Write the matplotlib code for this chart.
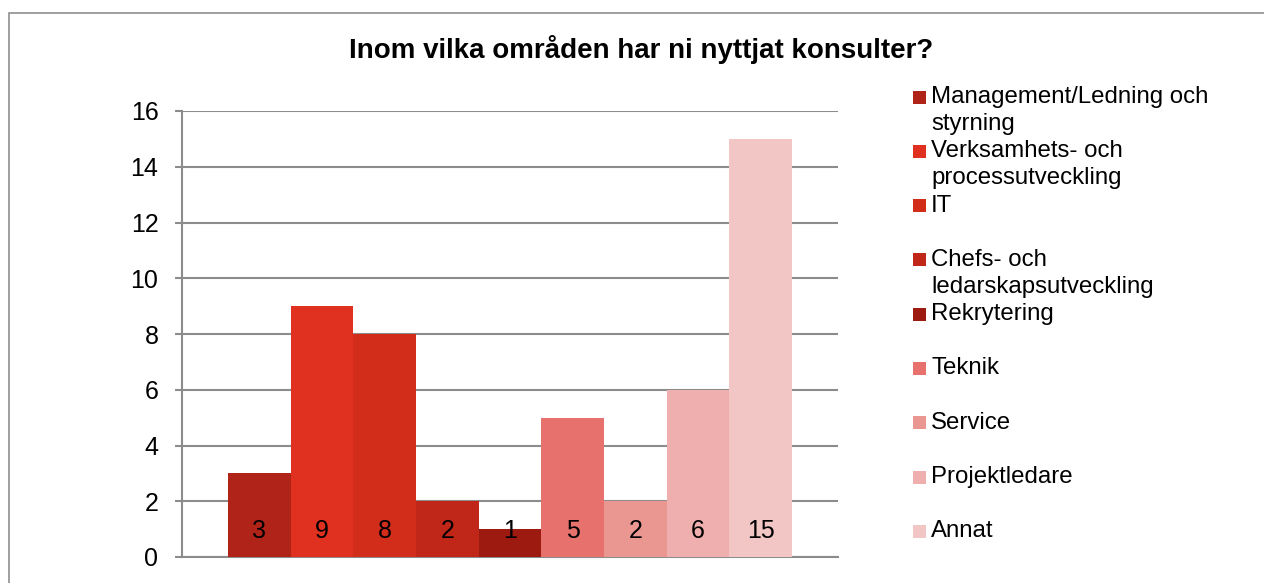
import matplotlib
matplotlib.use("Agg")
import matplotlib.pyplot as plt
from matplotlib.patches import Rectangle

categories = ["Management/Ledning och\nstyrning", "Verksamhets- och\nprocessutveckling", "IT",
              "Chefs- och\nledarskapsutveckling", "Rekrytering", "Teknik", "Service",
              "Projektledare", "Annat"]
values = [3, 9, 8, 2, 1, 5, 2, 6, 15]
colors = ["#B02318", "#E03020", "#D12D1A", "#C02718", "#9C1A10",
          "#E6716D", "#EA9792", "#F0AFAF", "#F3C6C6"]
yticks = [0, 2, 4, 6, 8, 10, 12, 14, 16]
title = "Inom vilka områden har ni nyttjat konsulter?"

plt.rcParams['font.family'] = ['Liberation Sans', 'DejaVu Sans']
W, H = 1264, 583
fig = plt.figure(figsize=(W / 100, H / 100), dpi=100)

# outer border
fig.patches.append(Rectangle((9 / W, -0.1), 1.2, 1 - 13 / H + 0.1, transform=fig.transFigure,
                             fill=False, edgecolor="#8f8f8f", linewidth=1.2))

ax = fig.add_axes([182 / W, (H - 557) / H, (838 - 182) / W, (557 - 111) / H])
grid_c = "#8c8c8c"
x = list(range(len(values)))
bars = ax.bar(x, values, width=1.0, color=colors, zorder=3, linewidth=0)
for xi, v in zip(x, values):
    ax.annotate(str(v), (xi, 0), xytext=(0, 19), textcoords="offset points",
                ha="center", va="center", fontsize=18, color="black", zorder=4)

gap = 46 / 62.7
ax.set_xlim(-0.5 - gap, len(values) - 0.5 + gap)
ax.set_ylim(0, 16)
ax.set_yticks(yticks)
ax.set_yticklabels([str(t) for t in yticks], fontsize=18)
ax.set_xticks([])
ax.yaxis.grid(True, color=grid_c, linewidth=1.5, zorder=0)
ax.tick_params(axis="y", length=5, width=1.5, color=grid_c, pad=12)
for s in ["top", "right"]:
    ax.spines[s].set_visible(False)
ax.spines["left"].set_color(grid_c)
ax.spines["left"].set_linewidth(1.5)
ax.spines["bottom"].set_color(grid_c)
ax.spines["bottom"].set_linewidth(1.5)

fig.text(641 / W, 1 - 49 / H, title, ha="center", va="center", fontsize=20, fontweight="bold")

# legend
y0, dy, lh = 97, 54.3, 27
for i, (lab, c) in enumerate(zip(categories, colors)):
    yc = y0 + i * dy
    fig.patches.append(Rectangle((913 / W, 1 - (yc + 6.5) / H), 13 / W, 13 / H,
                                 transform=fig.transFigure, facecolor=c, edgecolor="none"))
    for j, line in enumerate(lab.split("\n")):
        fig.text(931 / W, 1 - (yc + j * lh) / H, line, ha="left", va="center", fontsize=17.3)

fig.savefig("out.png", dpi=100)
